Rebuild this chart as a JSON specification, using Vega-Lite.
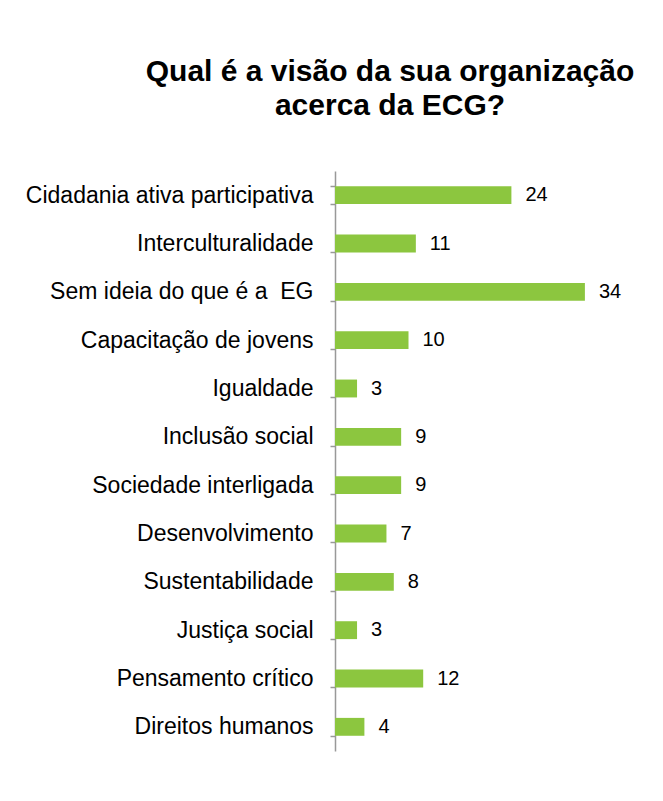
{
  "$schema": "https://vega.github.io/schema/vega-lite/v6.json",
  "autosize": {"type": "none"},
  "width": 294,
  "height": 580,
  "padding": {"left": 335, "top": 171, "right": 34, "bottom": 50},
  "background": "white",
  "config": {"view": {"stroke": null}, "font": "Liberation Sans"},
  "title": {
    "text": ["Qual é a visão da sua organização", "acerca da ECG?"],
    "anchor": "middle",
    "frame": "group",
    "dx": -92,
    "offset": 39,
    "fontSize": 30,
    "fontWeight": "bold",
    "color": "black",
    "font": "Liberation Sans",
    "lineHeight": 34
  },
  "data": {
    "values": [
      {"categoria": "Cidadania ativa participativa", "valor": 24},
      {"categoria": "Interculturalidade", "valor": 11},
      {"categoria": "Sem ideia do que é a\u00a0 EG", "valor": 34},
      {"categoria": "Capacitação de jovens", "valor": 10},
      {"categoria": "Igualdade", "valor": 3},
      {"categoria": "Inclusão social", "valor": 9},
      {"categoria": "Sociedade interligada", "valor": 9},
      {"categoria": "Desenvolvimento", "valor": 7},
      {"categoria": "Sustentabilidade", "valor": 8},
      {"categoria": "Justiça social", "valor": 3},
      {"categoria": "Pensamento crítico", "valor": 12},
      {"categoria": "Direitos humanos", "valor": 4}
    ]
  },
  "encoding": {
    "y": {
      "field": "categoria",
      "type": "nominal",
      "sort": null,
      "scale": {"paddingInner": 0.63, "paddingOuter": 0.315},
      "axis": {
        "title": null,
        "tickBand": "extent",
        "tickSize": 5,
        "tickColor": "#999999",
        "domainColor": "#999999",
        "domainWidth": 1.5,
        "tickWidth": 1.5,
        "labelFontSize": 23,
        "labelColor": "black",
        "labelFont": "Liberation Sans",
        "labelPadding": 17,
        "labelLimit": 400,
        "grid": false
      }
    },
    "x": {
      "field": "valor",
      "type": "quantitative",
      "scale": {"domain": [0, 40], "nice": false},
      "axis": null
    }
  },
  "layer": [
    {"mark": {"type": "bar", "color": "#8cc63f"}},
    {
      "mark": {"type": "text", "align": "left", "baseline": "middle", "dx": 14, "fontSize": 20, "color": "black", "font": "Liberation Sans"},
      "encoding": {"text": {"field": "valor", "type": "quantitative"}}
    }
  ]
}
